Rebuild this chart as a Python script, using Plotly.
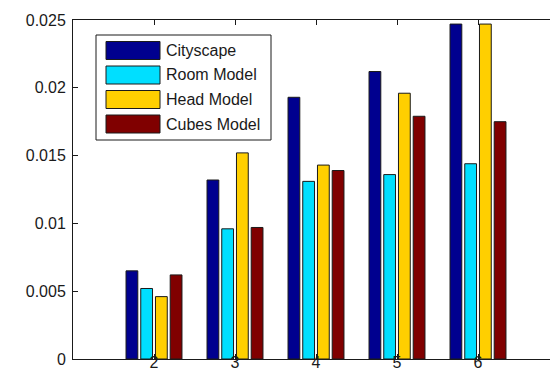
import plotly.graph_objects as go

categories = [2, 3, 4, 5, 6]
series_names = ["Cityscape", "Room Model", "Head Model", "Cubes Model"]
cityscape = [0.0065, 0.0132, 0.0193, 0.0212, 0.0247]
room_model = [0.0052, 0.0096, 0.0131, 0.0136, 0.0144]
head_model = [0.0046, 0.0152, 0.0143, 0.0196, 0.0247]
cubes_model = [0.0062, 0.0097, 0.0139, 0.0179, 0.0175]
y_ticks = [0, 0.005, 0.01, 0.015, 0.02, 0.025]
y_tick_labels = ["0", "0.005", "0.01", "0.015", "0.02", "0.025"]

colors = ["#00008F", "#00DFFF", "#FFCF00", "#800000"]
values = [cityscape, room_model, head_model, cubes_model]

W, H = 558, 370
ML, MR, MT, MB = 65, 7, 12, 19
PW, PH = W - ML - MR, H - MT - MB

def px(x):
    return (x - ML) / PW

def py(y):
    return (H - MB - y) / PH

fig = go.Figure()
for name, vals, col in zip(series_names, values, colors):
    fig.add_trace(go.Bar(
        x=categories, y=vals, name=name,
        marker=dict(color=col, line=dict(color="#1a1a1a", width=1)),
        showlegend=False,
    ))

font = dict(family="Liberation Sans, Arial, sans-serif", size=16, color="#1a1a1a")

# custom MATLAB-style legend
shapes = [dict(type="rect", xref="paper", yref="paper",
               x0=px(88), x1=px(263), y0=py(132), y1=py(27),
               line=dict(color="#1a1a1a", width=1), fillcolor="white", layer="above")]
annotations = []
row_centers = [42.5, 67, 91.5, 116]
for name, col, yc in zip(series_names, colors, row_centers):
    shapes.append(dict(type="rect", xref="paper", yref="paper",
                       x0=px(98), x1=px(152), y0=py(yc + 9), y1=py(yc - 9),
                       line=dict(color="#1a1a1a", width=1), fillcolor=col, layer="above"))
    annotations.append(dict(xref="paper", yref="paper", x=px(156), y=py(yc),
                            text=name, showarrow=False, xanchor="left", yanchor="middle",
                            font=font))

fig.update_layout(
    width=W, height=H,
    margin=dict(l=ML, r=MR, t=MT, b=MB, autoexpand=False),
    paper_bgcolor="white", plot_bgcolor="white",
    barmode="group", bargap=0.273, bargroupgap=0.2,
    font=font,
    shapes=shapes, annotations=annotations,
    showlegend=False,
)
fig.update_xaxes(range=[1, 7], tickvals=categories, ticks="inside", ticklen=5,
                 tickcolor="#1a1a1a", showline=True, linecolor="#1a1a1a", linewidth=1,
                 mirror="ticks", showgrid=False, zeroline=False, automargin=False,
                 ticklabelstandoff=-11)
fig.update_yaxes(range=[0, 0.025], tickvals=y_ticks, ticktext=y_tick_labels,
                 ticks="inside", ticklen=5, tickcolor="#1a1a1a", showline=True,
                 linecolor="#1a1a1a", linewidth=1, mirror="ticks", showgrid=False,
                 zeroline=False, automargin=False, ticklabelstandoff=3)

fig.write_html("out.html")
